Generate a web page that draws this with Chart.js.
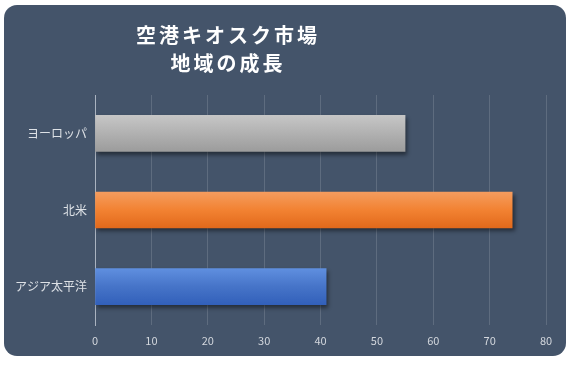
<!DOCTYPE html>
<html>
<head>
<meta charset="utf-8">
<script src="https://cdn.jsdelivr.net/npm/chart.js@4"></script>
<style>
  html, body { margin: 0; padding: 0; background: #ffffff; }
  #panel {
    position: absolute; left: 4px; top: 5px; width: 562px; height: 351px;
    background: #44546a; border-radius: 13px; overflow: hidden;
  }
  #chart { position: absolute; left: 0; top: 0; }
  #title {
    position: absolute; left: 0; top: 16px; width: 448px; text-align: center;
    color: #ffffff; font-family: "Noto Sans CJK JP", sans-serif; font-weight: bold;
    font-size: 20px; line-height: 28px; letter-spacing: 3px;
  }
</style>
</head>
<body>
<div id="panel">
  <canvas id="chart" width="562" height="351"></canvas>
  <div id="title">空港キオスク市場<br>地域の成長</div>
</div>
<script>
const categories = ['ヨーロッパ', '北米', 'アジア太平洋'];
const values = [55, 74, 41];
const axisMin = 0;
const axisMax = 80;
const axisStep = 10;

// gradient stops per bar (top, middle, bottom)
const barShades = [
  ['#c6c6c6', '#b1b1b1', '#9c9c9c'],
  ['#f59c5e', '#f28232', '#e2691b'],
  ['#5f8fdf', '#4674c8', '#3260ba']
];

const BAR_H = 36;

function barGradient(context) {
  const chart = context.chart;
  if (!chart.chartArea || !chart.scales.y) return barShades[context.dataIndex][1];
  const y = chart.scales.y.getPixelForValue(context.dataIndex);
  const s = barShades[context.dataIndex];
  const g = chart.ctx.createLinearGradient(0, y - BAR_H / 2, 0, y + BAR_H / 2);
  g.addColorStop(0, s[0]);
  g.addColorStop(0.5, s[1]);
  g.addColorStop(1, s[2]);
  return g;
}

const barShadow = {
  id: 'barShadow',
  beforeDatasetsDraw(chart) {
    const ctx = chart.ctx;
    ctx.save();
    ctx.shadowColor = 'rgba(0,0,0,0.45)';
    ctx.shadowBlur = 4;
    ctx.shadowOffsetX = 2;
    ctx.shadowOffsetY = 3;
  },
  afterDatasetsDraw(chart) {
    chart.ctx.restore();
  }
};

new Chart(document.getElementById('chart'), {
  type: 'bar',
  data: {
    labels: categories,
    datasets: [{
      data: values,
      backgroundColor: barGradient,
      borderWidth: 0,
      barThickness: BAR_H
    }]
  },
  options: {
    indexAxis: 'y',
    responsive: false,
    animation: false,
    layout: { padding: { top: 90, right: 20, bottom: 0, left: 0 } },
    plugins: {
      legend: { display: false },
      tooltip: { enabled: false }
    },
    scales: {
      x: {
        min: axisMin,
        max: axisMax,
        ticks: {
          stepSize: axisStep,
          color: '#d3d7dd',
          padding: 9,
          font: { family: '"Noto Sans CJK JP", sans-serif', size: 11 }
        },
        grid: { color: 'rgba(255,255,255,0.14)', drawTicks: false },
        border: { display: false },
        afterFit(scale) { scale.height = 31; }
      },
      y: {
        ticks: {
          color: '#dde1e6',
          padding: 8,
          font: { family: '"Noto Sans CJK JP", sans-serif', size: 12 }
        },
        grid: { display: false, drawTicks: false },
        border: { display: true, color: '#aab3c0', width: 1 },
        afterFit(scale) { scale.width = 91; }
      }
    }
  },
  plugins: [barShadow]
});
</script>
</body>
</html>
